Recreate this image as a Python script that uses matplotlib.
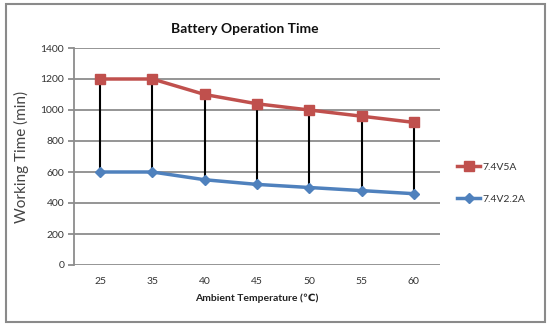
import matplotlib
matplotlib.use("Agg")
import matplotlib.pyplot as plt
from matplotlib.patches import Rectangle
import numpy as np

categories = ["25", "35", "40", "45", "50", "55", "60"]
series_5a = [1200, 1200, 1100, 1040, 1000, 960, 920]
series_22a = [600, 600, 550, 520, 500, 480, 460]
series_names = ["7.4V5A", "7.4V2.2A"]
y_ticks = [0, 200, 400, 600, 800, 1000, 1200, 1400]

plt.rcParams["font.family"] = ["Lato", "DejaVu Sans"]

W, H = 550, 328
fig = plt.figure(figsize=(W / 100, H / 100), dpi=100)
fig.patch.set_facecolor("white")

# outer chart frame
fig.patches.append(Rectangle((6 / W, 6 / H), 539 / W, 318 / H, transform=fig.transFigure,
                             fill=False, edgecolor="#8a8a8a", linewidth=1.5))

ax = fig.add_axes([74 / W, (H - 265) / H, (440 - 74) / W, (265 - 48) / H])
x = np.arange(len(categories))

# high-low lines
ax.vlines(x, series_22a, series_5a, color="black", linewidth=1.5, zorder=2)

ax.plot(x, series_5a, color="#C0504D", linewidth=2.5, marker="s", markersize=7,
        label=series_names[0], zorder=3)
ax.plot(x, series_22a, color="#4F81BD", linewidth=2.5, marker="D", markersize=5.5,
        label=series_names[1], zorder=3)

ax.set_xlim(-0.5, len(categories) - 0.5)
ax.set_ylim(0, 1400)
ax.set_yticks(y_ticks)
ax.set_xticks(x)
ax.set_xticklabels(categories)
ax.grid(axis="y", color="#8c8c8c", linewidth=1.3)
ax.set_axisbelow(True)
for s in ["top", "right", "bottom"]:
    ax.spines[s].set_visible(False)
ax.spines["left"].set_color("#8c8c8c")
ax.spines["left"].set_linewidth(1.3)
ax.tick_params(axis="y", length=4, width=1.3, color="#8c8c8c", labelsize=7.5,
               labelcolor="#333333", pad=3)
ax.tick_params(axis="x", length=0, labelsize=7.5, labelcolor="#333333", pad=9)

ax.set_xlabel("Ambient Temperature (\u2103)", fontsize=7.5, fontweight="bold",
              color="#222222", labelpad=5)
ax.set_ylabel("Working Time (min)", fontsize=11, color="#444444", labelpad=8)
fig.text(245 / W, 1 - 29 / H, "Battery Operation Time", ha="center", va="center",
         fontsize=10, fontweight="bold", color="#111111")

fig.legend(loc="center left", bbox_to_anchor=(448 / W, 1 - 183 / H), frameon=False,
           fontsize=7.5, handlelength=2.2, handletextpad=0.2, labelspacing=2.2,
           labelcolor="#333333")

fig.savefig("out.png", dpi=100, facecolor="white")
